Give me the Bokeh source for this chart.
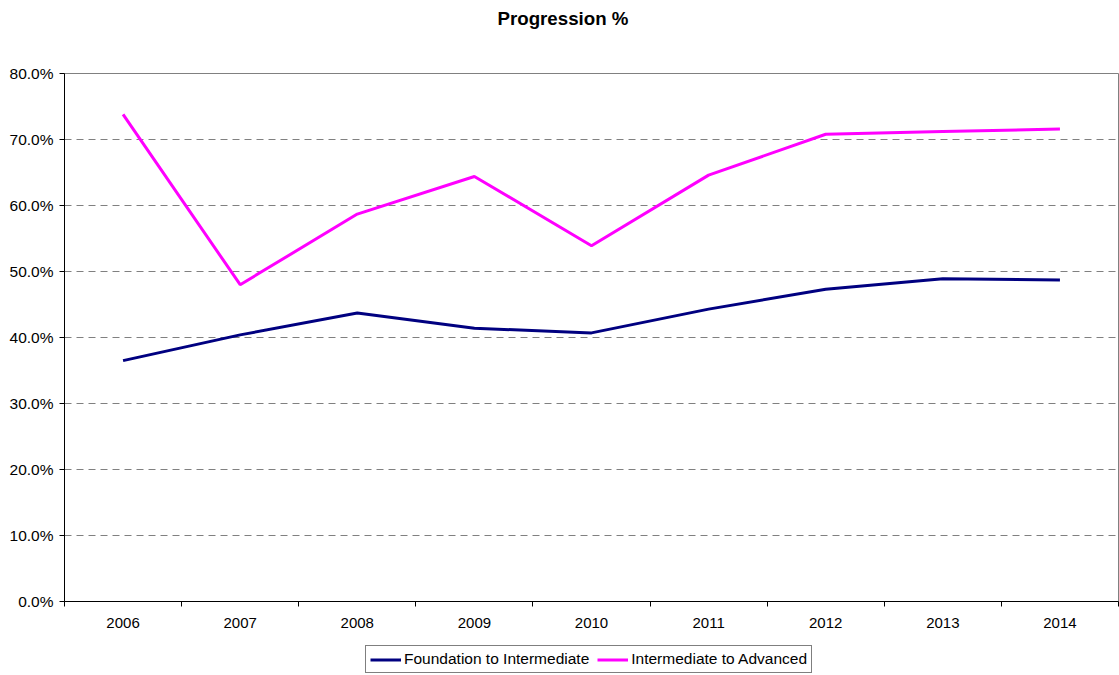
from bokeh.plotting import figure
from bokeh.layouts import column
from bokeh.models import (Range1d, FixedTicker, NumeralTickFormatter, Legend, LegendItem, Title)
from bokeh.embed import file_html
from bokeh.resources import INLINE

years = ["2006", "2007", "2008", "2009", "2010", "2011", "2012", "2013", "2014"]
foundation = [0.365, 0.404, 0.437, 0.414, 0.407, 0.443, 0.473, 0.489, 0.487]
intermediate = [0.738, 0.480, 0.587, 0.644, 0.539, 0.646, 0.708, 0.712, 0.716]
y_ticks = [0.0, 0.1, 0.2, 0.3, 0.4, 0.5, 0.6, 0.7, 0.8]
series_names = ["Foundation to Intermediate", "Intermediate to Advanced"]
series_colors = ["#000080", "#FF00FF"]

FONT = "Liberation Sans"

xs = [i + 0.5 for i in range(len(years))]

p = figure(width=1119, height=640, output_backend="svg", toolbar_location=None,
           x_range=Range1d(0, len(years)), y_range=Range1d(0, 0.8),
           min_border_left=64, min_border_right=1, min_border_top=69,
           min_border_bottom=39, title=None)

# spacer between title and plot frame
p.add_layout(Title(text=" ", text_font_size="25px", text_font=FONT), "above")
p.add_layout(Title(text="Progression %", text_font=FONT, text_font_size="18.7px",
                   text_font_style="bold", text_color="black", align="left",
                   offset=433), "above")

p.background_fill_color = "white"
p.border_fill_color = "white"
p.outline_line_color = "#808080"
p.outline_line_width = 1

# x axis: labels at category centres, tick marks at boundaries
xa = p.xaxis[0]
xa.ticker = FixedTicker(ticks=xs, minor_ticks=list(range(len(years) + 1)))
xa.major_label_overrides = {x: y for x, y in zip(xs, years)}
xa.major_tick_out = 0
xa.major_tick_in = 0
xa.minor_tick_out = 5
xa.minor_tick_in = 0
xa.minor_tick_line_color = "black"
xa.axis_line_color = "black"
xa.major_label_standoff = 11
xa.major_label_text_font = FONT
xa.major_label_text_font_size = "15px"
xa.major_label_text_color = "black"

ya = p.yaxis[0]
ya.ticker = FixedTicker(ticks=y_ticks)
ya.formatter = NumeralTickFormatter(format="0.0%")
ya.major_tick_out = 5
ya.major_tick_in = 0
ya.minor_tick_line_color = None
ya.axis_line_color = "black"
ya.major_tick_line_color = "black"
ya.major_label_standoff = 6
ya.major_label_text_font = FONT
ya.major_label_text_font_size = "15.5px"
ya.major_label_text_color = "black"

p.xgrid.grid_line_color = None
p.ygrid.ticker = FixedTicker(ticks=y_ticks[1:-1])
p.ygrid.grid_line_color = "#808080"
p.ygrid.grid_line_dash = "7 5"
p.ygrid.grid_line_width = 1

p.line(xs, foundation, line_color=series_colors[0], line_width=3)
p.line(xs, intermediate, line_color=series_colors[1], line_width=3)

# legend strip below the chart
p2 = figure(width=1119, height=35, output_backend="svg", toolbar_location=None,
            x_range=Range1d(0, len(years)), y_range=Range1d(0, 0.8),
            x_axis_type=None, y_axis_type=None, min_border=0, title=None)
p2.outline_line_color = None
p2.xgrid.visible = False
p2.ygrid.visible = False
k1 = p2.line(xs, foundation, line_color=series_colors[0], line_width=3, visible=False)
k2 = p2.line(xs, intermediate, line_color=series_colors[1], line_width=3, visible=False)

legend = Legend(items=[LegendItem(label=series_names[0], renderers=[k1]),
                       LegendItem(label=series_names[1], renderers=[k2])],
                orientation="horizontal", location=(301, 2))
legend.label_text_font = FONT
legend.label_text_font_size = "15.5px"
legend.label_text_color = "black"
legend.border_line_color = "black"
legend.border_line_width = 1
legend.glyph_width = 31
legend.glyph_height = 15
legend.label_height = 15
legend.label_standoff = 3
legend.spacing = 8
legend.padding = 4
legend.margin = 0
legend.inactive_fill_alpha = 0
legend.background_fill_alpha = 1
p2.add_layout(legend, "center")

open("out.html", "w").write(file_html(column(p, p2, spacing=0), INLINE))
